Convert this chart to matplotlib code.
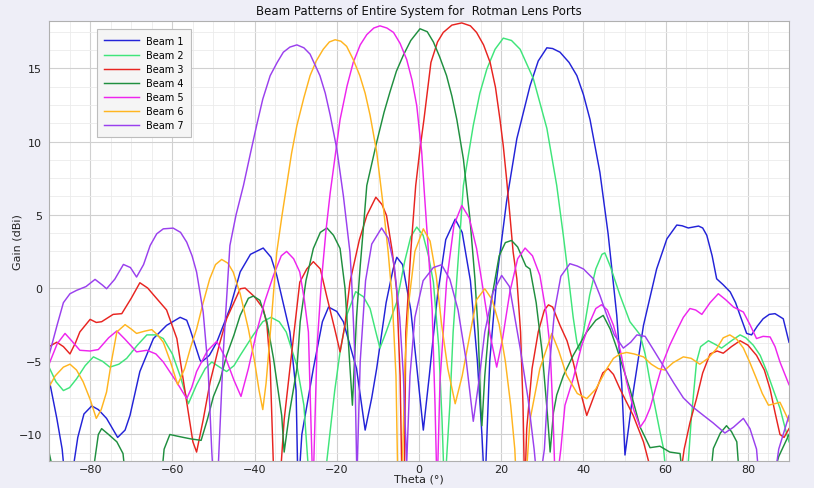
import matplotlib
matplotlib.use("Agg")
import matplotlib.pyplot as plt
from matplotlib.ticker import MultipleLocator

# ---------------- data (theta in degrees, gain in dBi) ----------------
beam_labels = ["Beam 1", "Beam 2", "Beam 3", "Beam 4", "Beam 5", "Beam 6", "Beam 7"]
beam_colors = ["#2323d8", "#3fe57a", "#e82420", "#1f8f3f", "#ee25ee", "#ffb520", "#9a40ee"]

b1_theta = [-90, -88.1, -86.8, -85.8, -84.5, -83, -81.5, -79.6, -78, -76, -73.3, -71.5, -70.3, -67.9, -64.6,
            -61.4, -58.1, -56.5, -55.7, -53.3, -52.9, -51, -49.2, -46, -43.5, -41, -37.9, -36, -34.6, -31.4,
            -29.9, -29.4, -28.5, -25.7, -23.5, -22, -20, -18.4, -15.2, -13.1, -11.5, -10.3, -8, -6.3, -5.4,
            -4, -2, -0.5, 1.05, 2.5, 4.5, 6.5, 8.8, 10.5, 12.5, 14.2, 15.3, 16, 17.2, 18.9, 21.3, 23.8, 27,
            29, 31.1, 32.5, 34.3, 36.5, 38.4, 40, 41.6, 44, 46, 48.1, 49.3, 50.1, 51, 52.1, 54.6, 57.8, 60.3,
            62.7, 64, 65.5, 68, 69, 70, 71.3, 72.4, 74, 75.7, 77, 78.1, 79.7, 80.9, 82.3, 83.7, 85.2, 86.6,
            88.6, 90]
b1_gain = [-6.2, -8.9, -11, -14, -13, -10.2, -8.6, -8.05, -8.3, -8.9, -10.2, -9.7, -8.7, -5.7, -3.45,
           -2.55, -2.0, -2.2, -2.8, -4.9, -5.05, -4.6, -3.7, -1.4, 1.1, 2.3, 2.73, 2.1, 0.86, -3.0,
           -7, -14, -10, -5.5, -2.3, -1.3, -1.6, -2.3, -5.5, -9.7, -7.5, -5.5, -1.0, 1.3, 2.1,
           1.6, -1.5, -5.5, -9.7, -6, -0.5, 3.3, 4.7, 3.8, 0.5, -5, -10, -14, -5, 0.63, 5.9, 10.2, 13.8,
           15.5, 16.4, 16.35, 16.1, 15.4, 14.5, 13.2, 11.5, 7.9, 3.7, -1.87, -6.5, -11.4, -9.5, -7.1, -2.55, 1.3, 3.36,
           4.3, 4.25, 4.1, 4.23, 4.1, 3.6, 2.2, 0.63, 0.22, -0.27, -1.0, -1.87, -3.1, -3.2, -2.6, -2.1, -1.8, -1.75,
           -2.1, -3.7]

b2_theta = [-90, -88.3, -86.5, -85, -83.3, -81.2, -79.2, -77, -75.2, -73, -71.1, -68.5, -66.2, -64, -62.2,
            -60, -58.1, -56.1, -54.1, -52, -50.4, -48.5, -46.8, -45, -43.5, -40.3, -38, -36, -34, -32.3,
            -29.7, -28, -26.5, -24, -22.5, -20.5, -19.2, -17.5, -15.4, -13.5, -11.9, -10.5, -9.5, -8, -5.4,
            -3.5, -2, -0.55, 1, 2.3, 3.5, 4.8, 5.6, 6.2, 7.5, 8.3, 9.2, 10.8, 13.2, 14.8, 16.5, 18.5, 20.5,
            22.5, 24.6, 27.8, 31.1, 33.5, 35.1, 36.5, 37.5, 38.4, 39, 40, 41.5, 43, 44.5, 45.2, 46.5, 48.9,
            51.3, 53.8, 55, 56.2, 58.6, 59.5, 60.5, 65, 66.2, 67.5, 68.5, 70.4, 72.4, 73.6, 76, 78.1, 79.5,
            81.3, 83, 84.6, 86.5, 87.8, 89, 90]
b2_gain = [-5.4, -6.4, -7.0, -6.8, -6.2, -5.3, -4.7, -5.0, -5.4, -5.2, -4.8, -3.9, -3.2, -3.2, -3.45,
           -4.5, -6.0, -7.9, -6.6, -5.5, -5.05, -5.4, -5.7, -5.3, -4.6, -3.2, -2.3, -2.0, -2.3, -3.0,
           -5.3, -8, -14, -14, -12, -7, -4.36, -1.8, -0.25, -0.6, -1.4, -3, -4.1, -3.0, -0.95,
           1.8, 3.5, 4.16, 3.6, 2.2, 0.4, -4, -9, -14, -8, -3, 0.63, 7.0, 11.1, 13.3, 14.95, 16.3, 17.06,
           16.9, 16.3, 14.3, 10.9, 7.0, 3.6, 0.4, -2.0, -3.7, -4.25, -3.0, -0.5, 1.3, 2.3, 2.4, 1.5, -0.5,
           -2.3, -3.2, -4.5, -6.4, -9.8, -11, -14, -14, -9, -5.05, -4.0, -3.6, -3.9, -4.1, -3.6, -3.2, -3.4,
           -3.9, -4.6, -5.7, -7.2, -8.2, -9.5, -10.5]

b3_theta = [-90, -88.1, -86.5, -84.9, -83.5, -82.5, -80, -78.5, -77.2, -74.4, -72.3, -70, -67.9, -66, -64.6,
            -61.4, -58.9, -56.5, -55, -54.1, -52.5, -50.8, -48.5, -46.8, -43.5, -42.3, -40, -37.9, -37, -36.2,
            -35.2, -34, -32.8, -31.4, -29, -27.3, -25.7, -24, -22.5, -20.5, -19.2, -18, -16.8, -14.5, -12.7,
            -10.5, -9, -7.9, -6.5, -5.4, -4.6, -4.1, -3.6, -3.2, -2, -0.8, 0.24, 1.2, 2.9, 4.5, 5.9, 8, 10.4,
            12.5, 14, 15.7, 17.3, 18.6, 19.7, 20.5, 21.3, 22.1, 22.9, 23.8, 24.7, 25.3, 25.7, 26.2, 27.5, 29,
            30.5, 31.5, 32.5, 34.3, 36, 37.5, 39, 40.8, 42, 43.2, 44.7, 46, 47.3, 48.9, 50.5, 52.1, 54.6, 56,
            57, 63, 64.5, 65.9, 67.5, 69, 70.8, 72.5, 74, 76, 78.1, 80, 82.1, 84, 85.4, 86.6, 87.8, 88.8, 90]
b3_gain = [-4.0, -3.7, -4.0, -4.5, -3.7, -3.0, -2.14, -2.35, -2.3, -1.8, -1.75, -0.7, 0.36, 0.0, -0.46,
           -1.5, -3.45, -7.8, -10.5, -11.2, -9, -6.4, -3.8, -2.1, -0.05, 0.0, -0.6, -1.4, -2.5, -5.3,
           -14, -14, -9, -5.5, 0.4, 1.3, 1.8, 1.3, -0.5, -2.8, -4.36, -2.5, 0.4, 3.3, 4.95,
           6.2, 5.7, 4.95, 2.5, -0.27, -6, -14, -14, -3, 2.5, 7, 9.5, 11.5, 15.4, 16.8, 17.45, 17.95, 18.1,
           17.9, 17.45, 16.6, 15.4, 13.7, 11.5, 9.7, 7.45, 5.0, 2.45, 0.63, -3, -8, -14, -9.6, -5.5, -3,
           -1.5, -1.15, -1.3, -2.55, -3.6, -5.05, -6.8, -8.7, -7.8, -6.9, -5.8, -5.5, -5.9, -6.9, -7.8, -8.7, -10.5, -12,
           -14, -14, -11, -9.2, -7.55, -5.8, -4.5, -4.3, -4.45, -4.0, -3.6, -3.9, -4.6, -5.6, -6.9, -8.5, -10, -10.2, -9.6]

b4_theta = [-90, -89, -88, -80, -79, -78, -77.2, -75.5, -73.5, -72, -71, -63, -62, -60.6, -59, -57.3, -55.5,
            -53, -51.5, -50, -48.4, -46.8, -45, -43.5, -41.5, -40.3, -38.7, -37, -35.4, -33.4, -32.8, -31.5,
            -29.7, -28.9, -27.5, -25.7, -24, -22.4, -20.8, -19.2, -18, -17, -16.2, -15.2, -14.3, -13.5, -12.7,
            -10.3, -8.5, -7.05, -5.5, -3.8, -2, 0.24, 2, 3.5, 5, 6.7, 8, 9.2, 10.8, 12.4, 13.6, 14.4, 15.0,
            15.3, 16, 17.5, 19.5, 21, 22.5, 24, 26, 27, 28.5, 30, 31.2, 31.9, 32.7, 33.5, 35.1, 37.5, 40.8,
            43, 44.8, 46.5, 48.1, 51.3, 53.8, 56.2, 58.6, 61, 63.5, 64.5, 70.5, 71.6, 73.3, 74.8, 76, 77.3,
            78.2, 85, 87.5, 90]
b4_gain = [-11.2, -12.5, -14, -14, -12, -10, -9.6, -10.0, -10.5, -11.3, -14, -14, -11, -10.0, -10.1, -10.2, -10.3,
           -10.4, -9.0, -7.4, -6.3, -4.6, -3.2, -1.87, -0.7, -0.55, -0.84, -2.3, -4.8, -8.7, -11.2, -8.5,
           -5.5, -2.3, 0.5, 2.7, 3.8, 4.1, 3.6, 2.7, 0.0, -4.5, -8.0, -2, 1.5, 4.2, 7.0,
           9.95, 12, 13.4, 14.8, 15.9, 16.9, 17.7, 17.5, 16.8, 15.8, 14.5, 13.1, 11.5, 8.8, 4.7, 0.63, -3, -8,
           -9.4, -6, -1, 2.2, 3.1, 3.25, 2.8, 1.5, 1.3, -1, -4.5, -8.5, -11.2, -8.5, -7.3, -6.0, -4.6, -3.0,
           -2.2, -1.87, -2.8, -4.1, -6.9, -9.5, -10.9, -10.8, -11.2, -11.3, -14, -14, -10.95, -9.9, -9.4, -9.8, -10.5,
           -14, -14, -11.5, -10.0]

b5_theta = [-90, -88, -86.1, -84.5, -82.5, -80, -78, -75.5, -73.5, -71.5, -68.7, -66.2, -64, -62.2, -59,
            -56.5, -55.3, -54.1, -51.5, -49.2, -47, -45, -43.3, -41.5, -39.5, -37.5, -35.4, -33.5, -32.2,
            -30.5, -29, -27.9, -26.9, -25.8, -24.8, -23.7, -22.6, -21.6, -19.2, -17.5, -16, -14.3, -12.7,
            -11, -9.5, -7.8, -6.2, -4.6, -3, -1.7, -0.55, 0.65, 1.3, 2.3, 3.2, 3.9, 4.4, 5.1, 6.7, 8.5, 10.4,
            12.2, 14, 15.7, 17.3, 18.9, 20.3, 22.1, 24, 25.8, 27.6, 29.4, 31, 31.9, 32.6, 33.2, 34.5, 35.5,
            37.5, 39.5, 41.6, 43, 44.4, 45.8, 47.3, 49, 50.5, 52.2, 53.8, 55, 56.2, 57.8, 59.4, 61, 62.7, 64.3,
            65.9, 67.3, 68.8, 70.8, 72.8, 74.6, 76.5, 78.9, 80.5, 82.1, 83.7, 85.4, 86.6, 87.8, 90]
b5_gain = [-5.2, -3.8, -3.1, -3.6, -4.25, -4.3, -4.2, -3.4, -2.93, -3.5, -4.36, -4.25, -4.5, -5.05, -6.4,
           -7.55, -6.8, -5.7, -4.3, -3.64, -4.8, -6.3, -7.4, -5.5, -3.0, -0.9, 0.86, 2.2, 2.5,
           2.0, 1.09, -0.8, -3.0, -14, -4, 0.6, 4, 6.5, 11.5, 13.8, 15.4, 16.6, 17.3,
           17.75, 17.9, 17.75, 17.45, 16.7, 15.6, 14.2, 12.45, 9.3, 6.5, 2.45, -1.5, -8, -14, -6.4, 0.4, 4.3, 5.63,
           4.8, 2.7, -0.3, -3.2, -5.4, -3.5, -0.27, 2.0, 2.73, 2.2, 0.86, -1.8, -4.1, -8.7, -14, -11, -8,
           -6.2, -4.0, -2.3, -1.4, -1.14, -1.5, -2.55, -4.3, -6.4, -8.3, -9.5, -9.0, -8.2, -6.6, -5.05, -3.9, -2.9, -2.0,
           -1.4, -1.5, -1.8, -1.0, -0.39, -0.8, -1.3, -1.64, -2.5, -3.45, -3.3, -3.34, -4.0, -5.05, -6.6]

b6_theta = [-90, -88.5, -86.5, -84.9, -83.3, -81.7, -80, -78.5, -77.3, -76, -74.8, -73.5, -71.5, -70, -68.7,
            -66.8, -65, -63.6, -62.2, -60.5, -58.7, -57, -55.5, -54.1, -52.5, -50.9, -49.5, -48, -46.5, -45.2,
            -43.5, -41.5, -40, -38.9, -38, -37.2, -36, -34.6, -33.3, -32.2, -31, -29.7, -28, -26.5, -25,
            -23.3, -21.8, -20.4, -19, -17.6, -16, -14.4, -13.1, -11.9, -10.3, -8.7, -7.5, -6.5, -5.6, -5.1,
            -4.2, -3.4, -2.5, -1, 1.05, 2.7, 4.2, 5.5, 7, 8.8, 10.5, 12.5, 14, 16, 17.8, 19.5, 21, 22.3, 23.3,
            23.8, 25.8, 27, 29.4, 32.3, 34, 35.9, 38.5, 40.8, 43, 45.7, 47.3, 48.9, 50.5, 52.3, 54.6, 56.5,
            58.2, 59.8, 61.8, 64.3, 66.2, 68.3, 70.3, 72.4, 74, 75.6, 77.3, 78.9, 80.5, 82.1, 83.5, 85, 86.5,
            87.8, 89, 90]
b6_gain = [-6.75, -6.0, -5.4, -5.2, -5.6, -6.4, -7.6, -8.9, -8.3, -7.1, -5.0, -3.0, -2.5, -2.8, -3.1,
           -2.95, -2.84, -3.2, -3.7, -5.0, -6.6, -5.5, -4.0, -2.8, -1.0, 0.63, 1.6, 1.95, 1.7, 1.09,
           -0.39, -2.8, -5, -7, -8.3, -6.5, -2.5, 2.45, 5.0, 7.0, 9.2, 11.1, 13.0, 14.5, 15.5,
           16.3, 16.8, 16.95, 16.85, 16.5, 15.6, 14.5, 13.3, 11.8, 9.3, 5.6, 2.45, -0.8, -6, -14,
           -14, -5, -1.0, 2.5, 4.04, 3.2, 0.8, -2.5, -5.5, -7.9, -6, -3, -0.8, -0.05, -0.8, -2.5, -5.0, -8, -11,
           -14, -14, -9, -5.5, -3.1, -4.3, -5.95, -7.2, -7.55, -6.9, -5.5, -4.8, -4.5, -4.4, -4.5, -4.7, -5.2,
           -5.5, -5.6, -5.1, -4.7, -4.8, -5.2, -4.8, -4.14, -3.4, -3.2, -3.5, -4.1, -5.1, -6.2, -7.2, -8.0, -7.9,
           -7.8, -8.5, -9.1]

b7_theta = [-90, -88, -86.5, -84.9, -83.3, -81, -78.8, -77, -76, -74, -71.9, -70.2, -68.7, -67, -65.4,
            -63.8, -62.2, -59.8, -58, -56.5, -55.2, -54.1, -52.5, -51.3, -50.4, -49.8, -48.8, -47.6, -46,
            -44.5, -42.7, -41, -39.5, -38, -36.2, -34.5, -33, -31.4, -29.7, -28, -26.5, -24.1, -22.8, -21.6,
            -20, -18.4, -16.8, -16.4, -15.7, -15.1, -14.3, -13, -11.5, -9.1, -7.5, -6, -4.7, -3.8, -3.0, -2.2,
            -1, 1, 3.5, 5.5, 7.5, 9.5, 11.5, 13.2, 14.5, 16, 18, 20.1, 22, 24.6, 26.5, 28, 29, 30.5, 31.5, 33,
            34.5, 36.7, 38.5, 40, 42.4, 44, 45.7, 47.5, 49.7, 51.5, 53, 55, 57, 59.4, 62, 64.3, 66.5, 69.2,
            71.5, 74.4, 76.5, 78.9, 80.5, 82.1, 83, 86, 87.5, 90]
b7_gain = [-4.6, -2.5, -1.0, -0.39, -0.16, 0.1, 0.59, 0.2, -0.05, 0.6, 1.61, 1.4, 0.75, 1.6, 2.9,
           3.7, 4.04, 4.09, 3.8, 3.13, 2.2, 1.09, -1.64, -5.5, -11.2, -14, -12, -4.36, 2.9,
           5.0, 7.0, 9.2, 11.1, 12.9, 14.5, 15.4, 16.1, 16.45, 16.6, 16.4, 15.97, 14.5, 13.3, 11.8,
           9.5, 6.3, 2.45, 0.6, -4, -13, -5, 0.5, 3.0, 4.1, 3.4, 1.5, -2, -6, -12, -6,
           -2, 0.5, 1.4, 1.59, 0.6, -1.5, -5, -9.1, -6.5, -3, -0.3, 0.86, 0.1, -4.1, -7.5, -11, -14, -11, -6, -1.5,
           0.8, 1.66, 1.5, 1.3, 0.63, -0.5, -1.87, -3.2, -4.1, -3.7, -3.2, -3.3, -4.2, -5.3, -6.5, -7.5, -8.1, -8.7,
           -9.2, -9.9, -9.5, -8.9, -9.6, -11, -14, -14, -11, -8.7]

beam_thetas = [b1_theta, b2_theta, b3_theta, b4_theta, b5_theta, b6_theta, b7_theta]
beam_gains = [b1_gain, b2_gain, b3_gain, b4_gain, b5_gain, b6_gain, b7_gain]

title_text = "Beam Patterns of Entire System for  Rotman Lens Ports"
x_label = "Theta (\u00b0)"
y_label = "Gain (dBi)"
x_ticks = [-80, -60, -40, -20, 0, 20, 40, 60, 80]
y_ticks = [-10, -5, 0, 5, 10, 15]

# ---------------- figure ----------------
plt.rcParams['font.family'] = ['DejaVu Sans']
fig = plt.figure(figsize=(8.14, 4.89), dpi=100, facecolor="#eeeef7")
ax = fig.add_axes([0.0602, 0.0555, 0.9091, 0.9001])
ax.set_facecolor("white")

for th, g, lab, col in zip(beam_thetas, beam_gains, beam_labels, beam_colors):
    ax.plot(th, g, color=col, lw=1.05, label=lab, solid_joinstyle="round")

ax.set_xlim(-90, 90)
ax.set_ylim(-11.8, 18.25)
ax.set_xticks(x_ticks)
ax.set_yticks(y_ticks)
ax.xaxis.set_minor_locator(MultipleLocator(5))
ax.yaxis.set_minor_locator(MultipleLocator(1.25))
ax.grid(which="major", color="#d0d0d0", lw=0.8)
ax.grid(which="minor", color="#ebebeb", lw=0.6)
ax.set_axisbelow(True)
ax.tick_params(which="both", length=0, labelsize=8, colors="#222222")
ax.tick_params(axis="x", pad=2)
ax.tick_params(axis="y", pad=5)
for s in ax.spines.values():
    s.set_color("#b0b0b0")
    s.set_linewidth(0.8)

ax.set_title(title_text, fontsize=8.5, pad=5, color="#111111")
ax.set_xlabel(x_label, fontsize=8, labelpad=0, color="#222222")
ax.set_ylabel(y_label, fontsize=8, labelpad=-3, color="#222222")

leg = ax.legend(loc="upper left", bbox_to_anchor=(0.058, 0.992), fontsize=7, handlelength=3.6,
                labelspacing=0.42, borderpad=0.7, handletextpad=0.8, fancybox=False,
                framealpha=1, facecolor="#f5f5f5", edgecolor="#bdbdbd")
leg.get_frame().set_linewidth(0.8)

fig.savefig("out.png", dpi=100, facecolor=fig.get_facecolor())
